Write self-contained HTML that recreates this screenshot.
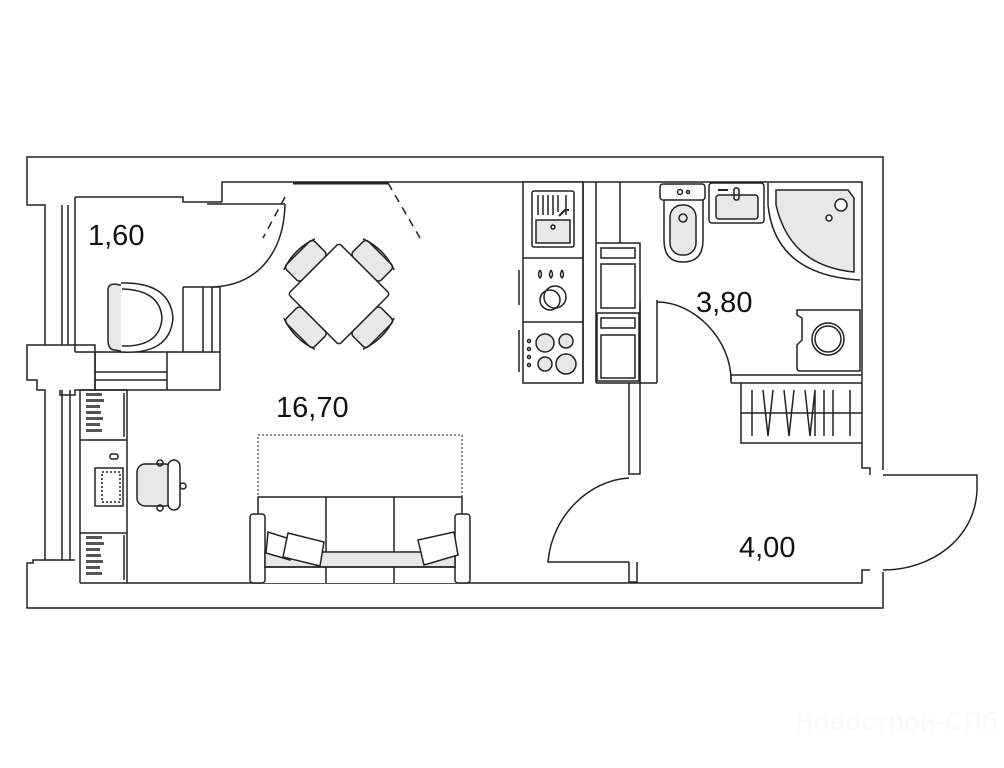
<!DOCTYPE html>
<html><head><meta charset="utf-8"><style>
html,body{margin:0;padding:0;background:#fff;}
svg{display:block}
text{font-family:"Liberation Sans","DejaVu Sans",sans-serif;}
</style></head><body>
<svg width="1004" height="768" viewBox="0 0 1004 768" xmlns="http://www.w3.org/2000/svg">
<g fill="none" stroke="#222" stroke-width="1.5">
<!-- outer wall -->
<path d="M883,470 V157 H27 V205 H45 V345 H27 V380 H37 V390 H45 V560 H33 V563 H27 V608 H883 V572"/>
<!-- inner wall line top -->
<path d="M222,202 V182 H862 V468 H870 V475"/>
<path d="M75,197 H183 V202 H222"/>
<path d="M870,570 H862 V583 H200"/>
<path d="M80,583 H200"/>
<!-- left windows -->
<path d="M75,197 V352 M62,205 V345 M68,205 V345"/>
<path d="M80,390 V583 M70,390 V560 M62,390 V560 M45,560 H75"/>
<path d="M45,345 H95 V390 H75 V395 H60 V390"/>
<!-- top window -->
<path d="M293,183 H388" stroke-width="3"/>
<path d="M285,197 L263,238 M388,183 L420,238" stroke-dasharray="8,6"/>
<!-- 1.60 door -->
<path d="M207,204 H285"/>
<path d="M285,204 C284,250 260,285 213,287"/>
<!-- closet 1.60 -->
<path d="M183,287 H220 V352 M183,287 V352 M203,287 V352 M212,287 V352"/>
<path d="M75,352 H220 M95,352 V390 H220 V352 M167,352 V390 M95,372 H167 M95,380 H167"/>
<!-- armchair -->
<path d="M108,290 Q108,282 120,285 L125,285 Q162,283 170,318 Q170,350 125,352 L115,350 Q108,350 108,340 Z" fill="#e8e8e8"/>
<path d="M121,283 Q170,282 173,318 Q170,355 121,352" fill="#fff"/>
<path d="M122,289 Q160,290 162,318 Q160,347 122,346" />
<!-- desk + shelves -->
<path d="M80,390 H127 V583 M80,440 H127 M80,533 H127 M124,393 V437 M124,535 V580"/>
<g fill="#555" stroke="none">
<rect x="86" y="393" width="16" height="3"/><rect x="86" y="399" width="18" height="3"/><rect x="86" y="405" width="14" height="3"/><rect x="86" y="411" width="15" height="3"/><rect x="86" y="417" width="17" height="3"/><rect x="86" y="423" width="14" height="3"/><rect x="86" y="429" width="16" height="3"/>
<rect x="86" y="536" width="16" height="3"/><rect x="86" y="542" width="18" height="3"/><rect x="86" y="548" width="14" height="3"/><rect x="86" y="554" width="15" height="3"/><rect x="86" y="560" width="17" height="3"/><rect x="86" y="566" width="14" height="3"/><rect x="86" y="572" width="16" height="3"/>
</g>
<rect x="95" y="468" width="28" height="38"/>
<rect x="102" y="472" width="18" height="30" stroke-dasharray="2,2"/>
<rect x="110" y="454" width="8" height="5" rx="2"/>
<!-- office chair -->
<rect x="137" y="464" width="36" height="42" rx="8" fill="#e8e8e8"/>
<rect x="168" y="460" width="12" height="50" rx="6" fill="#fff"/>
<circle cx="160" cy="463" r="3"/><circle cx="160" cy="508" r="3"/><circle cx="183" cy="486" r="3"/>
<!-- dining table -->
<g transform="translate(339,294) rotate(45)">
<g fill="#e8e8e8"><rect x="-20" y="-58" width="40" height="22" rx="4"/><rect x="-20" y="36" width="40" height="22" rx="4"/><rect x="-58" y="-20" width="22" height="40" rx="4"/><rect x="36" y="-20" width="22" height="40" rx="4"/></g>
<rect x="-36" y="-36" width="72" height="72" rx="3" fill="#fff"/>
<path d="M-22,-56 Q0,-64 22,-56 M-22,56 Q0,64 22,56 M-56,-22 Q-64,0 -56,22 M56,-22 Q64,0 56,22"/>
</g>
<!-- sofa -->
<rect x="258" y="435" width="204" height="62" stroke-dasharray="2,2" stroke-width="1"/>
<path d="M258,583 V497 H462 V583 M326,497 V583 M394,497 V583" fill="#fff"/>
<rect x="250" y="514" width="15" height="69" rx="3" fill="#fff"/>
<rect x="455" y="514" width="15" height="69" rx="3" fill="#fff"/>
<path d="M265,552 H455 V567 H265 Z" fill="#e8e8e8"/>
<path d="M265,567 H455"/>
<path d="M268,532 L293,540 L290,560 L266,553 Z" fill="#fff"/>
<path d="M288,533 L324,542 L320,566 L283,557 Z" fill="#fff"/>
<path d="M418,540 L454,532 L458,555 L424,565 Z" fill="#fff"/>
<!-- kitchen -->
<rect x="523" y="182" width="60" height="201" fill="#fff"/>
<path d="M523,258 H583 M523,322 H583 M583,182 V383 M596,182 V383 M596,383 H640 V243 H596 M620,182 V243 M596,243 H620"/>
<rect x="532" y="191" width="42" height="56" rx="2"/>
<rect x="536" y="220" width="34" height="23" fill="#e8e8e8"/>
<path d="M538,195 V215 M543,195 V215 M548,195 V215 M553,195 V215 M558,195 V212 M566,195 V215"/>
<circle cx="553" cy="227" r="2"/>
<path d="M559,216 L565,210 H569" stroke-width="2"/>
<rect x="601" y="248" width="34" height="10"/><rect x="601" y="264" width="34" height="44"/>
<rect x="597" y="313" width="42" height="68"/>
<rect x="601" y="318" width="34" height="10"/><rect x="601" y="335" width="34" height="43"/>
<circle cx="550" cy="300" r="10"/><circle cx="555" cy="297" r="11"/>
<path d="M540,270 q-3,5 0,8 q3,-3 0,-8 M551,270 q-3,5 0,8 q3,-3 0,-8 M562,270 q-3,5 0,8 q3,-3 0,-8"/>
<circle cx="545" cy="343" r="9" fill="#e8e8e8"/><circle cx="566" cy="341" r="7" fill="#e8e8e8"/>
<circle cx="545" cy="364" r="7" fill="#e8e8e8"/><circle cx="566" cy="364" r="10" fill="#e8e8e8"/>
<circle cx="529" cy="341" r="1.5"/><circle cx="529" cy="349" r="1.5"/><circle cx="529" cy="357" r="1.5"/><circle cx="529" cy="365" r="1.5"/>
<path d="M519,270 V305 M519,330 V372"/>
<!-- partitions -->
<path d="M629,383 V474 H640 V383"/>
<path d="M640,383 V302 M657,300 V383 M640,383 H657 M731,375 H862 M731,383 H862 M731,375 V383"/>
<path d="M657,302 C695,302 731,340 731,380"/>
<!-- bathroom fixtures -->
<rect x="660" y="184" width="45" height="16" rx="3"/>
<path d="M664,200 V240 Q664,262 683,262 Q703,262 703,240 V200"/>
<rect x="670" y="205" width="26" height="50" rx="12" fill="#e8e8e8"/>
<circle cx="683" cy="218" r="4"/><circle cx="680" cy="192" r="2.5"/><circle cx="688" cy="192" r="1.5"/>
<rect x="709" y="183" width="55" height="40" rx="3"/>
<rect x="716" y="195" width="42" height="24" rx="3" fill="#e8e8e8"/>
<path d="M718,190 H728" stroke-width="2"/><rect x="734" y="188" width="5" height="12" rx="2"/>
<path d="M768,183 V205 Q775,275 860,280"/>
<path d="M776,190 H848 L854,198 V272 Q790,266 776,205 Z" fill="#e8e8e8"/>
<circle cx="841" cy="205" r="6" fill="#fff"/><circle cx="829" cy="218" r="3" fill="#fff"/>
<path d="M797,310 H860 V371 H800 Q797,371 797,368 V345 L802,340 V318 L797,315 Z"/>
<circle cx="828" cy="339" r="16"/><circle cx="828" cy="339" r="13"/>
<!-- wardrobe -->
<path d="M741,383 V443 H862 M741,413 H862"/>
<path d="M752,390 V436 M763,390 L768,436 L773,390 M784,390 L789,436 L794,390 M805,390 L810,436 L815,390 V436 M824,390 V436 M833,390 V436 M850,390 V436"/>
<!-- entrance doors -->
<path d="M629,478 C590,480 552,515 548,562 H629"/>
<path d="M629,562 V582 H637 V562"/>
<path d="M883,475 H977 V490 C975,540 930,570 883,570"/>
</g>
<g fill="#111" font-size="29">
<text x="88" y="245">1,60</text>
<text x="276" y="417">16,70</text>
<text x="696" y="312">3,80</text>
<text x="739" y="557">4,00</text>
</g>
<text x="795" y="730" font-size="26" fill="#fafafa" font-weight="bold">Новострой-СПб</text>
</svg>
</body></html>
